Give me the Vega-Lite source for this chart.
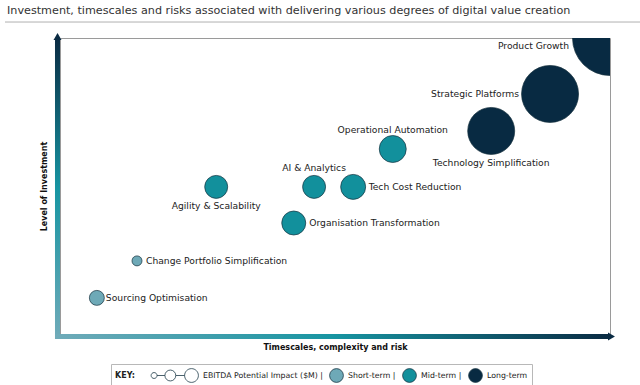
{
  "$schema": "https://vega.github.io/schema/vega-lite/v6.json",
  "autosize": "none",
  "width": 550,
  "height": 296,
  "padding": {"left": 60, "top": 38, "right": 30, "bottom": 51},
  "background": "white",
  "title": {
    "text": "Investment, timescales and risks associated with delivering various degrees of digital value creation",
    "anchor": "start",
    "frame": "group",
    "dx": -53,
    "offset": 5,
    "font": "DejaVu Sans",
    "fontSize": 11.2,
    "fontWeight": "normal",
    "color": "#333333"
  },
  "config": {
    "font": "DejaVu Sans",
    "view": {"stroke": "#9a9a9a", "strokeWidth": 1}
  },
  "datasets": {
    "initiatives": [
      {"name": "Sourcing Optimisation", "timescale": 6.7, "investment": 12.2, "impact": 5.6, "term": "Short-term"},
      {"name": "Change Portfolio Simplification", "timescale": 14.0, "investment": 24.7, "impact": 2.5, "term": "Short-term"},
      {"name": "Agility & Scalability", "timescale": 28.4, "investment": 49.7, "impact": 13.2, "term": "Mid-term"},
      {"name": "AI & Analytics", "timescale": 46.2, "investment": 49.7, "impact": 13.2, "term": "Mid-term"},
      {"name": "Tech Cost Reduction", "timescale": 53.3, "investment": 49.7, "impact": 15.6, "term": "Mid-term"},
      {"name": "Organisation Transformation", "timescale": 42.5, "investment": 37.5, "impact": 14.4, "term": "Mid-term"},
      {"name": "Operational Automation", "timescale": 60.5, "investment": 62.5, "impact": 18.2, "term": "Mid-term"},
      {"name": "Technology Simplification", "timescale": 78.4, "investment": 68.6, "impact": 55.2, "term": "Long-term"},
      {"name": "Strategic Platforms", "timescale": 89.1, "investment": 81.1, "impact": 81.2, "term": "Long-term"},
      {"name": "Product Growth", "timescale": 100, "investment": 100, "impact": 140.6, "term": "Long-term"}
    ]
  },
  "data": {"name": "initiatives"},
  "layer": [
    {
      "data": {"values": [{}]},
      "mark": {"type": "rule", "color": "#b0b0b0", "strokeWidth": 1},
      "encoding": {
        "x": {"datum": -10, "type": "quantitative", "scale": {"domain": [0, 100], "nice": false, "zero": false}, "axis": {"title": "Timescales, complexity and risk", "domain": false, "ticks": false, "labels": false, "grid": false, "titleFont": "DejaVu Sans", "titleFontSize": 8, "titleFontWeight": "bold", "titleColor": "#111111", "titlePadding": 9}},
        "x2": {"datum": 105.5},
        "y": {"datum": 105.4, "type": "quantitative", "scale": {"domain": [0, 100], "nice": false, "zero": false}, "axis": {"title": "Level of Investment", "domain": false, "ticks": false, "labels": false, "grid": false, "titleFont": "DejaVu Sans", "titleFontSize": 8, "titleFontWeight": "bold", "titleColor": "#111111", "titlePadding": 12}}
      }
    },
    {
      "data": {"values": [{}]},
      "mark": {"type": "rect", "fill": {"gradient": "linear", "x1": 0, "y1": 1, "x2": 0, "y2": 0, "stops": [{"offset": 0, "color": "#70abb9"}, {"offset": 0.5, "color": "#1795a2"}, {"offset": 1, "color": "#0a2b43"}]}},
      "encoding": {
        "x": {"datum": -0.91, "type": "quantitative"},
        "x2": {"datum": 0},
        "y": {"datum": -1.69, "type": "quantitative"},
        "y2": {"datum": 99.7}
      }
    },
    {
      "data": {"values": [{}]},
      "mark": {"type": "rect", "fill": {"gradient": "linear", "x1": 0, "y1": 0, "x2": 1, "y2": 0, "stops": [{"offset": 0, "color": "#70abb9"}, {"offset": 0.5, "color": "#1795a2"}, {"offset": 1, "color": "#0a2b43"}]}},
      "encoding": {
        "x": {"datum": -0.91, "type": "quantitative"},
        "x2": {"datum": 99.9},
        "y": {"datum": -1.69, "type": "quantitative"},
        "y2": {"datum": 0}
      }
    },
    {
      "data": {"values": [{}]},
      "mark": {"type": "point", "shape": "triangle-up", "filled": true, "color": "#0a2b43", "size": 64, "opacity": 1},
      "encoding": {
        "x": {"datum": -0.45, "type": "quantitative"},
        "y": {"datum": 100.5, "type": "quantitative"}
      }
    },
    {
      "data": {"values": [{}]},
      "mark": {"type": "point", "shape": "triangle-right", "filled": true, "color": "#0a2b43", "size": 64, "opacity": 1},
      "encoding": {
        "x": {"datum": 100.27, "type": "quantitative"},
        "y": {"datum": -0.85, "type": "quantitative"}
      }
    },
    {
      "mark": {"type": "point", "filled": true, "opacity": 1, "stroke": "#15303d", "strokeWidth": 0.7, "clip": true},
      "encoding": {
        "x": {"field": "timescale", "type": "quantitative"},
        "y": {"field": "investment", "type": "quantitative"},
        "size": {"field": "impact", "type": "quantitative", "scale": {"type": "linear", "domain": [0, 160], "range": [0, 6400], "zero": true}, "legend": null},
        "color": {
          "field": "term", "type": "nominal",
          "scale": {"domain": ["EBITDA Potential Impact ($M)", "Short-term", "Mid-term", "Long-term"], "range": ["#ffffff", "#6ea9b7", "#12909c", "#082a42"]},
          "legend": {
            "title": "KEY:", "orient": "none", "legendX": 51, "legendY": 326, "direction": "horizontal", "columns": 4,
            "titleOrient": "left", "titleFontSize": 8, "titleFontWeight": "bold", "titleColor": "#222222", "titlePadding": 45, "titleFont": "DejaVu Sans",
            "labelFontSize": 7.8, "labelColor": "#222222", "labelFont": "DejaVu Sans",
            "labelExpr": "datum.label == 'Long-term' ? datum.label : datum.label + ' |'",
            "symbolSize": 190, "symbolStrokeColor": "#1d3a48", "symbolStrokeWidth": 0.8, "symbolOffset": 4, "columnPadding": 2,
            "padding": 4, "strokeColor": "#b8b8b8", "fillColor": "#ffffff"
          }
        },
        "shape": {
          "field": "term", "type": "nominal",
          "scale": {"domain": ["EBITDA Potential Impact ($M)", "Short-term", "Mid-term", "Long-term"], "range": ["M-5.86,0A0.43,0.43,0,1,0,-5,0A0.43,0.43,0,1,0,-5.86,0M-5,0L-3.86,0M-3.86,0A0.79,0.79,0,1,0,-2.28,0A0.79,0.79,0,1,0,-3.86,0M-2.28,0L-1,0M-1,0A1,1,0,1,0,1,0A1,1,0,1,0,-1,0Z", "circle", "circle", "circle"]},
          "legend": {
            "title": "KEY:", "orient": "none", "legendX": 51, "legendY": 326, "direction": "horizontal", "columns": 4,
            "titleOrient": "left", "titleFontSize": 8, "titleFontWeight": "bold", "titleColor": "#222222", "titlePadding": 45, "titleFont": "DejaVu Sans",
            "labelFontSize": 7.8, "labelColor": "#222222", "labelFont": "DejaVu Sans",
            "labelExpr": "datum.label == 'Long-term' ? datum.label : datum.label + ' |'",
            "symbolSize": 190, "symbolStrokeColor": "#1d3a48", "symbolStrokeWidth": 0.8, "symbolOffset": 4, "columnPadding": 2,
            "padding": 4, "strokeColor": "#b8b8b8", "fillColor": "#ffffff"
          }
        }
      }
    },
    {
      "transform": [{"filter": {"field": "name", "oneOf": ["Sourcing Optimisation", "Change Portfolio Simplification"]}}],
      "mark": {"type": "text", "align": "left", "baseline": "middle", "dx": 9, "fontSize": 9.2, "color": "#222222"},
      "encoding": {"x": {"field": "timescale", "type": "quantitative"}, "y": {"field": "investment", "type": "quantitative"}, "text": {"field": "name"}}
    },
    {
      "transform": [{"filter": {"field": "name", "oneOf": ["Tech Cost Reduction", "Organisation Transformation"]}}],
      "mark": {"type": "text", "align": "left", "baseline": "middle", "dx": 15.5, "fontSize": 9.2, "color": "#222222"},
      "encoding": {"x": {"field": "timescale", "type": "quantitative"}, "y": {"field": "investment", "type": "quantitative"}, "text": {"field": "name"}}
    },
    {
      "transform": [{"filter": {"field": "name", "oneOf": ["AI & Analytics", "Operational Automation"]}}],
      "mark": {"type": "text", "align": "center", "baseline": "middle", "dy": -19, "fontSize": 9.2, "color": "#222222"},
      "encoding": {"x": {"field": "timescale", "type": "quantitative"}, "y": {"field": "investment", "type": "quantitative"}, "text": {"field": "name"}}
    },
    {
      "transform": [{"filter": {"field": "name", "equal": "Agility & Scalability"}}],
      "mark": {"type": "text", "align": "center", "baseline": "middle", "dy": 19, "fontSize": 9.2, "color": "#222222"},
      "encoding": {"x": {"field": "timescale", "type": "quantitative"}, "y": {"field": "investment", "type": "quantitative"}, "text": {"field": "name"}}
    },
    {
      "transform": [{"filter": {"field": "name", "equal": "Technology Simplification"}}],
      "mark": {"type": "text", "align": "center", "baseline": "middle", "dy": 32, "fontSize": 9.2, "color": "#222222"},
      "encoding": {"x": {"field": "timescale", "type": "quantitative"}, "y": {"field": "investment", "type": "quantitative"}, "text": {"field": "name"}}
    },
    {
      "transform": [{"filter": {"field": "name", "equal": "Strategic Platforms"}}],
      "mark": {"type": "text", "align": "right", "baseline": "middle", "dx": -31, "fontSize": 9.2, "color": "#222222"},
      "encoding": {"x": {"field": "timescale", "type": "quantitative"}, "y": {"field": "investment", "type": "quantitative"}, "text": {"field": "name"}}
    },
    {
      "transform": [{"filter": {"field": "name", "equal": "Product Growth"}}],
      "mark": {"type": "text", "align": "right", "baseline": "middle", "dx": -41, "dy": 8, "fontSize": 9.2, "color": "#222222"},
      "encoding": {"x": {"field": "timescale", "type": "quantitative"}, "y": {"field": "investment", "type": "quantitative"}, "text": {"field": "name"}}
    }
  ]
}
